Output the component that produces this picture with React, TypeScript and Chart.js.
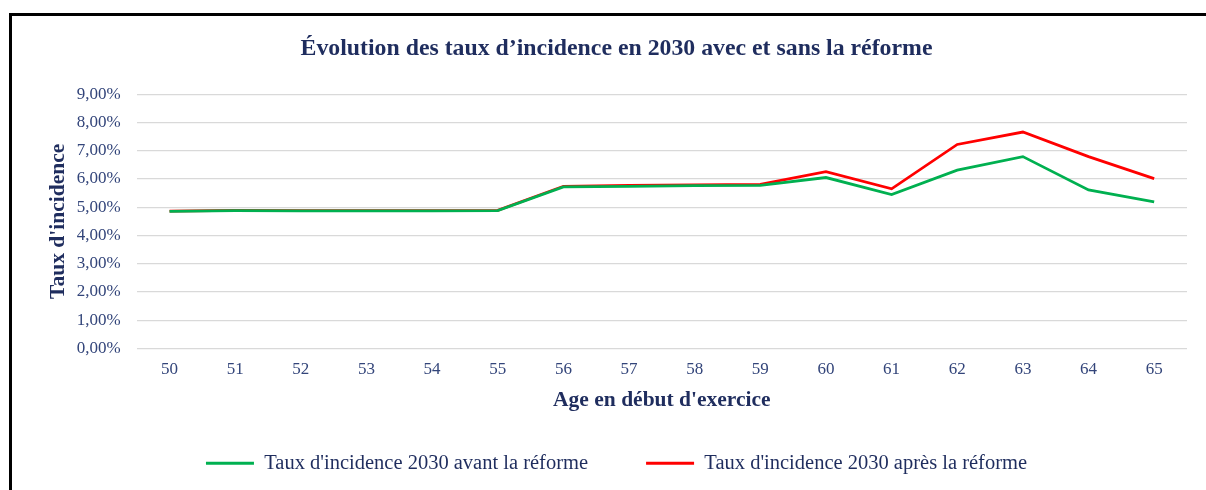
import React, { useEffect, useRef } from "react";
import { Chart, registerables } from "chart.js";

Chart.register(...registerables);

const categories = ["50", "51", "52", "53", "54", "55", "56", "57", "58", "59", "60", "61", "62", "63", "64", "65"];
const avantReforme = [4.85, 4.88, 4.87, 4.87, 4.87, 4.88, 5.72, 5.74, 5.76, 5.77, 6.05, 5.45, 6.31, 6.79, 5.61, 5.19];
const apresReforme = [4.86, 4.89, 4.88, 4.88, 4.88, 4.89, 5.74, 5.77, 5.79, 5.81, 6.26, 5.65, 7.22, 7.66, 6.79, 6.01];
const yTicks = [0, 1, 2, 3, 4, 5, 6, 7, 8, 9];

const NAVY = "#1F2D5E";
const TICK = "#33457A";
const FONT = "'Liberation Serif', 'Times New Roman', serif";

export default function App() {
  const ref = useRef<HTMLCanvasElement | null>(null);

  useEffect(() => {
    if (!ref.current) return;
    const chart = new Chart(ref.current, {
      type: "line",
      data: {
        labels: categories,
        datasets: [
          {
            label: "Taux d'incidence 2030 avant la réforme",
            data: avantReforme,
            borderColor: "#00B050",
            backgroundColor: "#00B050",
            borderWidth: 2.8,
            pointRadius: 0,
            pointStyle: "line",
            tension: 0,
          },
          {
            label: "Taux d'incidence 2030 après la réforme",
            data: apresReforme,
            borderColor: "#FF0000",
            backgroundColor: "#FF0000",
            borderWidth: 2.8,
            pointRadius: 0,
            pointStyle: "line",
            tension: 0,
          },
        ],
      },
      options: {
        responsive: false,
        animation: false,
        layout: { padding: { left: 46, right: 19, top: 0, bottom: 6.5 } },
        plugins: {
          title: {
            display: true,
            text: "Évolution des taux d’incidence en 2030 avec et sans la réforme",
            color: NAVY,
            font: { family: FONT, size: 23.8, weight: "bold" },
            padding: { top: 35, bottom: 30.6 },
          },
          legend: {
            position: "bottom",
            labels: {
              usePointStyle: true,
              pointStyleWidth: 48,
              color: NAVY,
              font: { family: FONT, size: 20.5 },
              padding: 58,
            },
          },
          tooltip: { enabled: false },
        },
        scales: {
          x: {
            offset: true,
            grid: { display: false, drawTicks: false },
            border: { display: false },
            ticks: { color: TICK, font: { family: FONT, size: 17 }, padding: 11 },
            title: {
              display: true,
              text: "Age en début d'exercice",
              color: NAVY,
              font: { family: FONT, size: 21.5, weight: "bold" },
              padding: { top: -3.3, bottom: -18.4 },
            },
          },
          y: {
            min: 0,
            max: 9,
            afterBuildTicks: (axis: any) => {
              axis.ticks = yTicks.map((v) => ({ value: v }));
            },
            grid: { color: "#D9D9D9", lineWidth: 1.2, drawTicks: false },
            border: { display: false },
            ticks: {
              color: TICK,
              font: { family: FONT, size: 17 },
              padding: 16,
              callback: (v: any) => Number(v).toFixed(2).replace(".", ",") + "%",
            },
            title: {
              display: true,
              text: "Taux d'incidence",
              color: NAVY,
              font: { family: FONT, size: 21.5, weight: "bold" },
              padding: { top: 0, bottom: -11 },
            },
          },
        },
      },
    });
    return () => chart.destroy();
  }, []);

  return (
    <div style={{ position: "fixed", left: 0, top: 0, width: 1206, height: 490, overflow: "hidden", background: "#fff" }}>
      <div
        style={{
          position: "absolute",
          left: 9,
          top: 13,
          width: 1400,
          height: 700,
          border: "3px solid #000",
          boxSizing: "border-box",
        }}
      />
      <canvas ref={ref} width={1206} height={490} style={{ position: "absolute", left: 0, top: 0 }} />
    </div>
  );
}
